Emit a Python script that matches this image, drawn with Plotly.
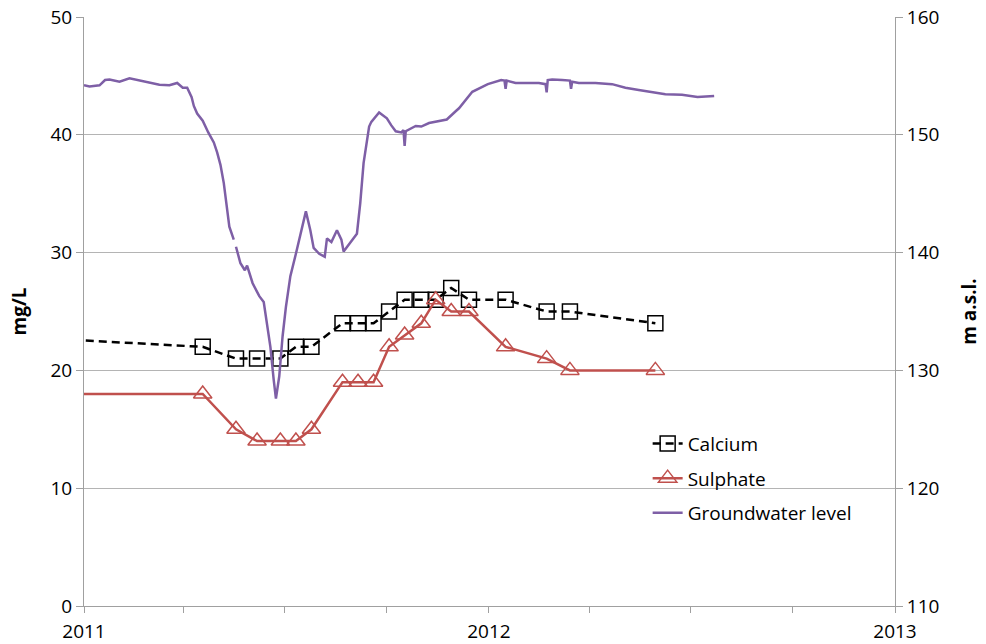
import plotly.graph_objects as go

# 钙、硫酸盐采样日期（首个点在图框左侧之外，被裁剪）
sample_dates = ["2010-10-01", "2011-04-18", "2011-05-18", "2011-06-06", "2011-06-27",
                "2011-07-11", "2011-07-25", "2011-08-22", "2011-09-05", "2011-09-19",
                "2011-10-03", "2011-10-17", "2011-11-01", "2011-11-14", "2011-11-28",
                "2011-12-14", "2012-01-16", "2012-02-22", "2012-03-14", "2012-05-30"]
calcium = [23, 22, 21, 21, 21, 22, 22, 24, 24, 24, 25, 26, 26, 26, 27, 26, 26, 25, 25, 24]
sulphate = [18, 18, 15, 14, 14, 14, 15, 19, 19, 19, 22, 23, 24, 26, 25, 25, 22, 21, 20, 20]

# 地下水位 (m a.s.l.)，None 为数据缺口
gw_dates = ["2011-01-01", "2011-01-06", "2011-01-15", "2011-01-20", "2011-01-24",
            "2011-02-02", "2011-02-11", "2011-02-20", "2011-03-01", "2011-03-10",
            "2011-03-19", "2011-03-26", "2011-03-31", "2011-04-04", "2011-04-08",
            "2011-04-10", "2011-04-13", "2011-04-18", "2011-04-23", "2011-04-28",
            "2011-05-01", "2011-05-04", "2011-05-07", "2011-05-09", "2011-05-12",
            "2011-05-16", "2011-05-17", "2011-05-18", "2011-05-22", "2011-05-26",
            "2011-05-28", "2011-06-02", "2011-06-08", "2011-06-12", "2011-06-15",
            "2011-06-18", "2011-06-21", "2011-06-23", "2011-06-26", "2011-06-29",
            "2011-07-02", "2011-07-06", "2011-07-11", "2011-07-15", "2011-07-20",
            "2011-07-24", "2011-07-27", "2011-08-01", "2011-08-06", "2011-08-08",
            "2011-08-12", "2011-08-17", "2011-08-21", "2011-08-23", "2011-08-26",
            "2011-09-04", "2011-09-07", "2011-09-10", "2011-09-15", "2011-09-17",
            "2011-09-24", "2011-10-01", "2011-10-05", "2011-10-09", "2011-10-14",
            "2011-10-16", "2011-10-17", "2011-10-18", "2011-10-27", "2011-11-01",
            "2011-11-08", "2011-11-17", "2011-11-24", "2011-12-02", "2011-12-05",
            "2011-12-17", "2011-12-23", "2011-12-31", "2012-01-12", "2012-01-15",
            "2012-01-16", "2012-01-17", "2012-01-25", "2012-02-06", "2012-02-15",
            "2012-02-21", "2012-02-22", "2012-02-23", "2012-02-27", "2012-03-07",
            "2012-03-14", "2012-03-15", "2012-03-16", "2012-03-22", "2012-04-06",
            "2012-04-21", "2012-05-03", "2012-05-15", "2012-05-27", "2012-06-08",
            "2012-06-23", "2012-07-07", "2012-07-22"]
gw_level = [154.2, 154.1, 154.2, 154.65, 154.7,
            154.5, 154.8, 154.6, 154.4, 154.25,
            154.2, 154.4, 154.0, 154.0, 153.2,
            152.45, 151.8, 151.2, 150.2, 149.35,
            148.5, 147.45, 145.9, 144.45, 142.2,
            141.1, None, 140.5, 139.1, 138.5,
            138.9, 137.4, 136.3, 135.8, 134.0,
            132.0, 129.2, 127.6, 129.5, 132.9,
            135.4, 138.0, 139.9, 141.6, 143.5,
            141.9, 140.4, 139.9, 139.65, 141.2,
            140.9, 141.9, 141.1, 140.1, 140.5,
            141.6, 144.2, 147.6, 150.7, 151.1,
            151.9, 151.4, 150.8, 150.3, 150.2,
            150.4, 149.05, 150.3, 150.75, 150.7,
            151.0, 151.2, 151.3, 152.0, 152.25,
            153.65, 153.95, 154.3, 154.65, 154.6,
            153.9, 154.6, 154.4, 154.4, 154.4,
            154.3, 153.6, 154.65, 154.7, 154.65,
            154.6, 153.9, 154.5, 154.4, 154.4,
            154.3, 154.0, 153.8, 153.6, 153.45,
            153.4, 153.2, 153.3]

FONT = "Open Sans"
GRID = "#B4B4B4"
AXIS = "#A0A0A0"

fig = go.Figure()

fig.add_trace(go.Scatter(
    x=sample_dates, y=calcium, name="Calcium", mode="lines+markers",
    line=dict(color="black", width=2.5, dash="8px,5px"),
    marker=dict(symbol="square-open", size=15, color="black", line=dict(width=1.5)),
    legendgroup="a"))

fig.add_trace(go.Scatter(
    x=sample_dates, y=sulphate, name="Sulphate", mode="lines+markers",
    line=dict(color="#C0504D", width=2.5),
    marker=dict(symbol="triangle-up-open", size=16, color="#C0504D", line=dict(width=1.5)),
    legendgroup="b"))

fig.add_trace(go.Scatter(
    x=gw_dates, y=gw_level, name="Groundwater level", mode="lines",
    line=dict(color="#7E5FA6", width=2.5), connectgaps=False,
    yaxis="y2", legendgroup="c"))

fig.update_layout(
    width=986, height=644,
    margin=dict(l=84, r=91, t=17, b=38),
    paper_bgcolor="white", plot_bgcolor="white",
    font=dict(family=FONT, size=19, color="black"),
    showlegend=True,
    legend=dict(x=0.695, y=0.308, xanchor="left", yanchor="top",
                bgcolor="rgba(0,0,0,0)", font=dict(size=19),
                traceorder="grouped", tracegroupgap=7),
    xaxis=dict(type="date", range=["2011-01-01", "2013-01-01"], automargin=False,
               tick0="2011-01-01", dtick="M12", tickformat="%Y",
               showgrid=False, showline=True, linecolor=AXIS, linewidth=1,
               ticks="outside", ticklen=6, tickcolor=AXIS, ticklabelstandoff=2,
               minor=dict(dtick="M3", ticks="outside", ticklen=6, tickcolor=AXIS, showgrid=False),
               zeroline=False),
    yaxis=dict(range=[0, 50], dtick=10, showgrid=True, gridcolor=GRID, gridwidth=1,
               showline=True, linecolor=AXIS, ticks="outside", ticklen=7, tickcolor=AXIS,
               zeroline=False, automargin=False, ticklabeloverflow="allow",
               title=dict(text="<b>mg/L</b>", font=dict(size=19), standoff=18)),
    yaxis2=dict(range=[110, 160], dtick=10, overlaying="y", side="right",
                showgrid=False, showline=True, linecolor=AXIS, automargin=False,
                ticks="outside", ticklen=7, tickcolor=AXIS, zeroline=False,
                ticklabeloverflow="allow",
                title=dict(text="<b>m a.s.l.</b>", font=dict(size=19), standoff=24)),
)

# 去掉页面 body 的默认 8px 边距，让图正好占满窗口；隐藏工具栏
fig.write_html("out.html", config={"displayModeBar": False},
               post_script="document.body.style.margin='0';")
